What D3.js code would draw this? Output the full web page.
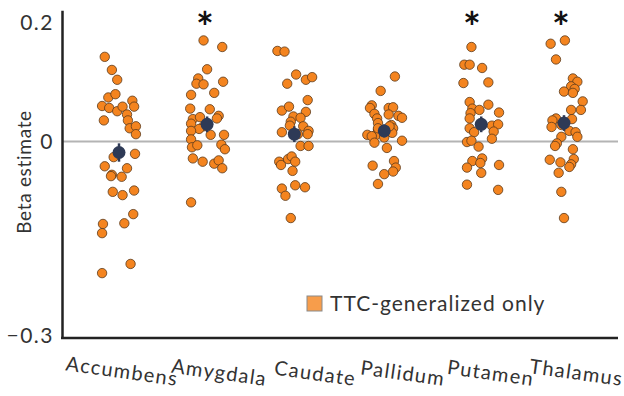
<!DOCTYPE html>
<html>
<head>
<meta charset="utf-8">
<script src="https://cdn.jsdelivr.net/npm/d3@7"></script>
<style>
  body { margin: 0; background: #fff; }
  text { font-family: Lato, "Open Sans", sans-serif; fill: #333; }
</style>
</head>
<body>
<div id="chart"></div>
<script>

// Regions shown on the x axis
var categories = ["Accumbens", "Amygdala", "Caudate", "Pallidum", "Putamen", "Thalamus"];

// Beta estimates per subject and their horizontal jitter (in category steps)
var accumbensBeta = [0.129, 0.109, 0.094, 0.067, 0.072, 0.062, 0.054, 0.051, 0.046, 0.053, 0.053, 0.032, 0.041, 0.032, 0.020, 0.023, 0.011,
  -0.024, -0.019, -0.038, -0.041, -0.051, -0.054, -0.053, -0.077, -0.082, -0.075, -0.111, -0.125, -0.126, -0.140, -0.187, -0.201];
var accumbensJitter = [-0.16, -0.08, -0.02, -0.12, -0.04, 0.15, -0.19, -0.11, -0.02, 0.04, 0.17, -0.17, 0.09, 0.10, 0.12, 0.19, 0.19,
  -0.06, 0.18, -0.16, 0.09, -0.08, 0.03, -0.09, -0.07, 0.04, 0.17, 0.16, 0.06, -0.18, -0.19, 0.13, -0.19];

var amygdalaBeta = [0.154, 0.144, 0.110, 0.096, 0.088, 0.087, 0.091, 0.074, 0.071, 0.050, 0.049, 0.034, 0.037, 0.039, 0.035, 0.027,
  0.023, 0.019, 0.016, 0.010, 0.010, 0.003, -0.009, -0.006, -0.005, -0.012, -0.026, -0.031, -0.034, -0.029, -0.041, -0.093];
var amygdalaJitter = [-0.05, 0.16, -0.01, -0.11, -0.13, -0.05, 0.17, 0.07, -0.19, -0.20, 0.02, -0.17, -0.09, 0.12, 0.10, -0.19,
  -0.05, -0.10, -0.19, 0.03, 0.18, -0.19, -0.18, -0.12, 0.15, 0.19, -0.17, -0.06, 0.07, 0.12, 0.16, -0.19];

var caudateBeta = [0.138, 0.137, 0.102, 0.088, 0.094, 0.098, 0.063, 0.047, 0.053, 0.045, 0.038, 0.036, 0.030, 0.024, 0.014, 0.023,
  0.016, 0.011, 0.011, -0.007, -0.007, -0.031, -0.036, -0.027, -0.023, -0.031, -0.045, -0.072, -0.067, -0.070, -0.083, -0.117];
var caudateJitter = [-0.22, -0.14, -0.01, -0.11, 0.10, 0.17, 0.12, -0.17, -0.09, 0.10, -0.04, 0.04, -0.07, -0.08, -0.17, 0.07,
  0.13, 0.12, 0.01, 0.04, 0.13, -0.20, -0.18, -0.10, -0.06, -0.02, -0.05, -0.17, -0.02, 0.09, -0.13, -0.07];

var pallidumBeta = [0.099, 0.077, 0.055, 0.051, 0.042, 0.035, 0.051, 0.052, 0.041, 0.039, 0.036, 0.028, 0.025, 0.020, 0.018, 0.010,
  0.009, 0.008, 0.013, 0.006, -0.002, 0.001, -0.010, -0.037, -0.030, -0.040, -0.046, -0.050, -0.065, 0.020, 0.023];
var pallidumJitter = [0.10, -0.06, -0.16, -0.18, -0.13, -0.10, 0.03, 0.08, 0.03, 0.14, 0.18, -0.09, 0.06, 0.08, -0.09, -0.21,
  -0.12, -0.16, 0.07, -0.02, -0.13, 0.18, 0.01, -0.15, 0.09, 0.11, 0.08, -0.02, -0.09, -0.09, 0.04];

var putamenBeta = [0.144, 0.117, 0.117, 0.112, 0.089, 0.090, 0.060, 0.050, 0.048, 0.056, 0.044, 0.043, 0.035, 0.020, 0.014,
  0.024, 0.026, 0.015, 0.004, -0.001, 0.001, -0.008, -0.030, -0.040, -0.026, -0.033, -0.036, -0.048, -0.066, -0.074];
var putamenJitter = [-0.04, -0.12, -0.06, 0.08, -0.13, 0.15, -0.06, -0.03, 0.05, 0.15, 0.27, -0.05, -0.06, -0.06, -0.01,
  0.19, 0.26, 0.21, 0.19, -0.09, -0.04, 0.04, -0.03, -0.09, 0.08, 0.06, 0.27, 0.07, -0.09, 0.26];

var thalamusBeta = [0.149, 0.154, 0.125, 0.096, 0.091, 0.084, 0.080, 0.076, 0.074, 0.061, 0.048, 0.048, 0.035, 0.032, 0.034, 0.022,
  0.025, 0.016, 0.014, 0.007, 0.007, -0.003, -0.007, -0.012, -0.027, -0.028, -0.032, -0.035, -0.039, -0.048, -0.077, -0.117];
var thalamusJitter = [-0.15, 0.01, -0.09, 0.10, 0.15, 0.08, 0.12, 0.00, 0.10, 0.21, 0.19, 0.08, -0.09, -0.13, 0.09, -0.14,
  -0.03, 0.06, 0.13, 0.15, -0.03, -0.08, -0.10, 0.10, 0.11, -0.16, -0.04, 0.08, 0.06, -0.06, -0.03, 0.00];

// Group means, their standard errors and jitter
var meanBeta = [-0.017, 0.026, 0.011, 0.016, 0.026, 0.028];
var meanErr = [0.014, 0.012, 0.012, 0.010, 0.012, 0.012];
var meanJitter = [0.00, -0.01, -0.03, -0.02, 0.07, 0.00];

// Regions marked with an asterisk
var significant = ["Amygdala", "Putamen", "Thalamus"];

// Y axis ticks
var yTicks = [-0.3, 0, 0.2];

var legendLabel = "TTC-generalized only";

window.onload = function() {

  var svgW = 624;
  var svgH = 396;
  var margin = {left: 62, right: 6, top: 10, bottom: 58};

  var betas = [accumbensBeta, amygdalaBeta, caudateBeta, pallidumBeta, putamenBeta, thalamusBeta];
  var jitters = [accumbensJitter, amygdalaJitter, caudateJitter, pallidumJitter, putamenJitter, thalamusJitter];

  // Flatten into one table of points
  var points = [];
  categories.forEach(function(cat, i) {
    betas[i].forEach(function(b, k) {
      points.push({region: cat, beta: b, jitter: jitters[i][k]});
    });
  });

  var means = categories.map(function(cat, i) {
    return {region: cat, beta: meanBeta[i], err: meanErr[i], jitter: meanJitter[i]};
  });

  var svg = d3.select("#chart")
              .append("svg")
                .attr("width", svgW)
                .attr("height", svgH);

  // Scales
  var xScale = d3.scalePoint()
                  .domain(categories)
                  .range([119, 564]);
  var step = xScale.step();

  var yScale = d3.scaleLinear()
                  .domain([-0.3, 0.2])
                  .range([svgH - margin.bottom, margin.top + 0.3]);

  // Zero reference line
  svg.append("line")
      .attr("x1", margin.left)
      .attr("x2", svgW - margin.right)
      .attr("y1", yScale(0))
      .attr("y2", yScale(0))
      .attr("stroke", "#b4b4b4")
      .attr("stroke-width", 2);

  // Y axis
  var yAxis = d3.axisLeft(yScale)
                .tickValues(yTicks)
                .tickSize(0)
                .tickSizeOuter(0)
                .tickPadding(8)
                .tickFormat(function(d) { return d === 0 ? "0" : d3.format(".1f")(d); });

  var gy = svg.append("g")
      .attr("transform", "translate(" + margin.left + ",0)")
      .call(yAxis);
  gy.select(".domain").attr("stroke", "#222").attr("stroke-width", 2.5);
  gy.selectAll("text")
      .style("font-size", "21px")
      .style("font-family", "Lato, sans-serif")
      .style("letter-spacing", "1.5px")
      .attr("fill", "#333")
      .attr("dy", function(d) {
        if (d === 0.2) return "0.9em";
        if (d === -0.3) return "0.2em";
        return "0.34em";
      });

  // X axis line
  svg.append("line")
      .attr("x1", margin.left - 1)
      .attr("x2", svgW - margin.right)
      .attr("y1", yScale(-0.3))
      .attr("y2", yScale(-0.3))
      .attr("stroke", "#222")
      .attr("stroke-width", 2.5);

  // Category labels, slightly tilted
  svg.selectAll(".cat-label")
      .data(categories)
      .enter()
      .append("text")
        .attr("class", "cat-label")
        .attr("transform", function(d) {
          return "translate(" + (xScale(d) + 58) + ",386) rotate(8)";
        })
        .style("text-anchor", "end")
        .style("font-size", "20px")
        .style("letter-spacing", "1.3px")
        .text(function(d) { return d; });

  // Y axis title
  svg.append("text")
      .attr("transform", "translate(31,172) rotate(-90)")
      .style("text-anchor", "middle")
      .style("font-size", "19px")
      .style("letter-spacing", "0.7px")
      .text("Beta estimate");

  // Individual subjects
  svg.selectAll(".dot")
      .data(points)
      .enter()
      .append("circle")
        .attr("class", "dot")
        .attr("cx", function(d) { return xScale(d.region) + d.jitter * step; })
        .attr("cy", function(d) { return yScale(d.beta); })
        .attr("r", 4.7)
        .attr("fill", "#f4841f")
        .attr("stroke", "#5a3a1c")
        .attr("stroke-width", 0.8);

  // Group means with error bars
  svg.selectAll(".err")
      .data(means)
      .enter()
      .append("line")
        .attr("class", "err")
        .attr("x1", function(d) { return xScale(d.region) + d.jitter * step; })
        .attr("x2", function(d) { return xScale(d.region) + d.jitter * step; })
        .attr("y1", function(d) { return yScale(d.beta + d.err); })
        .attr("y2", function(d) { return yScale(d.beta - d.err); })
        .attr("stroke", "#2e3a56")
        .attr("stroke-width", 2.5);

  svg.selectAll(".mean")
      .data(means)
      .enter()
      .append("circle")
        .attr("class", "mean")
        .attr("cx", function(d) { return xScale(d.region) + d.jitter * step; })
        .attr("cy", function(d) { return yScale(d.beta); })
        .attr("r", 6.5)
        .attr("fill", "#2e3a56");

  // Significance stars
  svg.selectAll(".star")
      .data(significant)
      .enter()
      .append("text")
        .attr("class", "star")
        .attr("x", function(d) { return xScale(d) - 3; })
        .attr("y", 43)
        .style("text-anchor", "middle")
        .style("font-size", "42px")
        .style("font-weight", "bold")
        .style("fill", "#111")
        .text("*");

  // Legend
  var legend = svg.append("g")
                  .attr("transform", "translate(307,296)");
  legend.append("rect")
      .attr("width", 15)
      .attr("height", 15)
      .attr("fill", "#f79d4b")
      .attr("stroke", "#8a8a8a")
      .attr("stroke-width", 1);
  legend.append("text")
      .attr("x", 23)
      .attr("y", 15)
      .style("font-size", "21px")
      .style("letter-spacing", "1px")
      .text(legendLabel);
};
</script>
</body>
</html>
